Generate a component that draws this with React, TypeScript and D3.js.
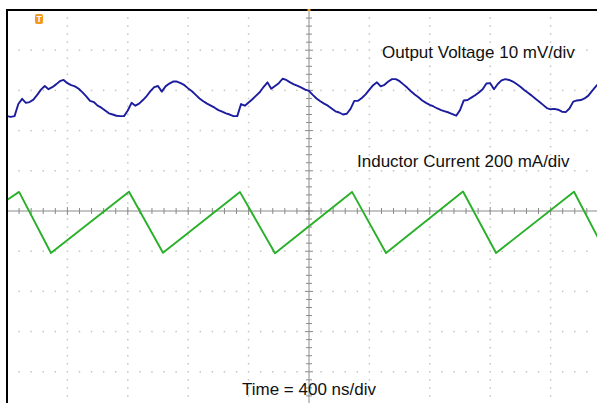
import React from "react";
import * as d3 from "d3";

// Oscilloscope settings
const TIME_PER_DIV_NS = 400;
const VOLT_PER_DIV_MV = 10;
const CURRENT_PER_DIV_MA = 200;
const H_DIVS = 10;
const V_DIVS = 10;
const SAMPLE_STEP_NS = 25;

// Channel 1: output voltage ripple (mV, relative to screen centre), sampled every 25 ns
const outputVoltageMv = [
  23.6, 23.4, 23.6, 26.6, 27.9, 26.9, 27.1, 27.7, 28.9, 30.2,
  31.1, 30.3, 30.8, 31.5, 32.3, 32.6, 31.8, 31.3, 31.0, 30.4,
  29.5, 28.5, 27.4, 27.1, 26.2, 25.7, 25.0, 24.3, 24.0, 23.7,
  23.6, 23.6, 25.0, 26.9, 26.2, 26.7, 27.6, 28.6, 29.8, 30.8,
  31.1, 29.7, 31.0, 31.7, 32.2, 32.2, 31.8, 31.3, 30.5, 29.8,
  28.9, 28.0, 27.3, 26.7, 26.2, 25.7, 25.1, 24.7, 24.3, 24.0,
  23.6, 23.6, 26.6, 26.2, 27.0, 27.8, 28.7, 29.6, 30.9, 32.0,
  30.4, 31.1, 31.8, 32.9, 32.6, 32.0, 31.5, 31.1, 30.7, 30.2,
  29.9, 28.9, 28.0, 27.3, 26.7, 26.2, 25.5, 24.8, 24.5, 24.0,
  24.2, 25.4, 27.4, 27.4, 28.1, 29.0, 30.2, 31.3, 32.0, 31.0,
  31.4, 32.2, 32.8, 32.8, 32.3, 31.5, 30.7, 29.8, 29.0, 28.3,
  27.5, 26.9, 26.4, 26.0, 25.5, 25.1, 24.8, 24.5, 24.1, 23.7,
  25.1, 27.5, 27.6, 28.2, 28.8, 29.5, 30.3, 31.7, 31.8, 30.3,
  31.6, 32.5, 32.8, 32.6, 32.2, 31.6, 30.9, 30.1, 29.4, 28.7,
  27.9, 27.2, 26.4, 25.6, 25.3, 25.4, 25.2, 24.7, 24.6, 25.5,
  27.2, 27.5, 27.6, 28.0, 28.7, 29.9, 31.0, 32.0, 32.6, 32.7,
  32.8,
];

// Channel 2: inductor current (mA, relative to screen centre), vertices of the triangle wave
const inductorTimeNs = [0, 80, 291, 808, 1033, 1543, 1775, 2285, 2510, 3020, 3239, 3755, 3967, 4000];
const inductorCurrentMa = [55, 95, -209, 96, -208, 94, -210, 95, -209, 97, -209, 96, -209, -189];

const labels = {
  voltage: "Output Voltage 10 mV/div",
  current: "Inductor Current 200 mA/div",
  time: "Time = 400 ns/div",
};

export default function App() {
  const W = 597;
  const H = 403;
  const left = 7;
  const top = 10;
  const divW = 60.4;
  const divH = 40.2;
  const right = left + divW * H_DIVS;
  const bottom = top + divH * V_DIVS;
  const cx = left + divW * (H_DIVS / 2);
  const cy = top + divH * (V_DIVS / 2);

  const totalNs = TIME_PER_DIV_NS * H_DIVS;
  const x = d3.scaleLinear().domain([0, totalNs]).range([left, right]);
  const yV = d3
    .scaleLinear()
    .domain([-VOLT_PER_DIV_MV * V_DIVS / 2, VOLT_PER_DIV_MV * V_DIVS / 2])
    .range([bottom, top]);
  const yI = d3
    .scaleLinear()
    .domain([-CURRENT_PER_DIV_MA * V_DIVS / 2, CURRENT_PER_DIV_MA * V_DIVS / 2])
    .range([bottom, top]);

  const vData = outputVoltageMv.map((v, i) => [i * SAMPLE_STEP_NS, v] as [number, number]);
  const iData = inductorTimeNs.map((t, i) => [t, inductorCurrentMa[i]] as [number, number]);

  const vLine = d3
    .line<[number, number]>()
    .x((d) => x(d[0]))
    .y((d) => yV(d[1]));
  const iLine = d3
    .line<[number, number]>()
    .x((d) => x(d[0]))
    .y((d) => yI(d[1]));

  // grid dots
  const dots: React.ReactNode[] = [];
  const dotColor = "#c4c4c4";
  for (let k = 1; k < H_DIVS; k++) {
    if (k === H_DIVS / 2) continue;
    const gx = left + k * divW;
    for (let m = 1; m < V_DIVS * 5; m++) {
      const gy = top + (m * divH) / 5;
      dots.push(<rect key={`v${k}-${m}`} x={gx - 0.75} y={gy - 0.75} width={1.5} height={1.5} fill={dotColor} />);
    }
  }
  for (let k = 1; k < V_DIVS; k++) {
    if (k === V_DIVS / 2) continue;
    const gy = top + k * divH;
    for (let m = 1; m < H_DIVS * 5; m++) {
      if (m % 5 === 0) continue;
      const gx = left + (m * divW) / 5;
      dots.push(<rect key={`h${k}-${m}`} x={gx - 0.75} y={gy - 0.75} width={1.5} height={1.5} fill={dotColor} />);
    }
  }

  const ticks: React.ReactNode[] = [];
  const axisColor = "#8a8a8a";
  for (let m = 1; m < H_DIVS * 5; m++) {
    const gx = left + (m * divW) / 5;
    const len = m % 5 === 0 ? 4 : 3;
    ticks.push(<line key={`tx${m}`} x1={gx} x2={gx} y1={cy - len} y2={cy + len} stroke={axisColor} strokeWidth={1} />);
  }
  for (let m = 1; m < V_DIVS * 5; m++) {
    const gy = top + (m * divH) / 5;
    const len = m % 5 === 0 ? 4 : 3;
    ticks.push(<line key={`ty${m}`} x1={cx - len} x2={cx + len} y1={gy} y2={gy} stroke={axisColor} strokeWidth={1} />);
  }

  const font = "'Liberation Sans', Arial, Helvetica, sans-serif";

  return (
    <svg
      width={W}
      height={H}
      style={{ position: "absolute", left: 0, top: 0, background: "#fff" }}
    >
      <rect x={0} y={0} width={W} height={H} fill="#fff" />
      {dots}
      <line x1={left} x2={right} y1={cy} y2={cy} stroke={axisColor} strokeWidth={1} />
      <line x1={cx} x2={cx} y1={top} y2={bottom} stroke={axisColor} strokeWidth={1} />
      {ticks}
      <path d={vLine(vData) || ""} fill="none" stroke="#1c1c9e" strokeWidth={1.9} strokeLinejoin="round" />
      <path d={iLine(iData) || ""} fill="none" stroke="#28b028" strokeWidth={1.9} strokeLinejoin="round" />
      <line x1={left} x2={right} y1={top} y2={top} stroke="#000" strokeWidth={2} />
      <line x1={left} x2={left} y1={top - 1} y2={bottom} stroke="#000" strokeWidth={2} />
      <rect x={cx - 1.5} y={top - 1} width={3} height={2} fill="#f0a020" />
      <rect x={35} y={14} width={8} height={10} rx={2} fill="#f29a1e" />
      <text x={39} y={22} fontSize={8.5} fontWeight="bold" fill="#fff" textAnchor="middle" fontFamily={font}>T</text>
      <text x={382} y={58} fontSize={17} fill="#111" fontFamily={font}>{labels.voltage}</text>
      <text x={357} y={167} fontSize={17} fill="#111" fontFamily={font}>{labels.current}</text>
      <text x={242} y={395} fontSize={17} fill="#111" fontFamily={font}>{labels.time}</text>
    </svg>
  );
}
